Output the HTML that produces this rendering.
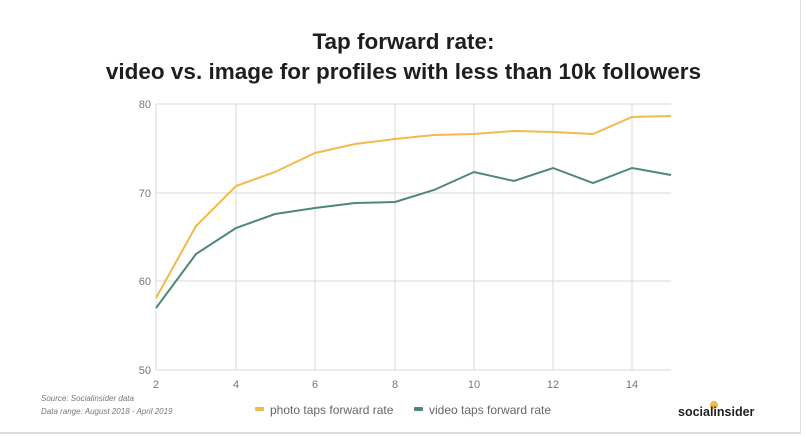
<!DOCTYPE html>
<html><head><meta charset="utf-8"><style>
body{margin:0;width:807px;height:437px;background:#fff;overflow:hidden;font-family:"Liberation Sans",sans-serif;}
.t{position:absolute;left:0;width:807px;text-align:center;font-size:22.5px;font-weight:bold;color:#1e1e1e;}
</style></head><body>
<div style="position:absolute;left:0;top:0;width:800px;height:432px;border-right:1px solid #e0e0e0;border-bottom:2px solid #dcdcdc;"></div>
<div class="t" style="top:29px">Tap forward rate:</div>
<div class="t" style="top:59px">video vs. image for profiles with less than 10k followers</div>
<svg width="807" height="437" style="position:absolute;left:0;top:0">
<g stroke="#d9d9d9" stroke-width="1">
<line x1="156" y1="104" x2="671" y2="104"/><line x1="156" y1="193" x2="671" y2="193"/>
<line x1="156" y1="281" x2="671" y2="281"/><line x1="156" y1="370" x2="671" y2="370"/>
<line x1="156" y1="104" x2="156" y2="370"/><line x1="236" y1="104" x2="236" y2="370"/>
<line x1="315" y1="104" x2="315" y2="370"/><line x1="395" y1="104" x2="395" y2="370"/>
<line x1="474" y1="104" x2="474" y2="370"/><line x1="553" y1="104" x2="553" y2="370"/>
<line x1="632" y1="104" x2="632" y2="370"/>
</g>
<g font-size="11" fill="#777" text-anchor="end">
<text x="151" y="108">80</text><text x="151" y="197">70</text><text x="151" y="285">60</text><text x="151" y="374">50</text>
</g>
<g font-size="11" fill="#777" text-anchor="middle">
<text x="156" y="388">2</text><text x="236" y="388">4</text><text x="315" y="388">6</text><text x="395" y="388">8</text><text x="474" y="388">10</text><text x="553" y="388">12</text><text x="632" y="388">14</text>
</g>
<polyline fill="none" stroke="#f2b94c" stroke-width="2" points="156,298 196,226 236,186 275,172 315,153 355,144 395,139 434,135 474,134 514,131 553,132 593,134 632,117 671,116"/>
<polyline fill="none" stroke="#4e8a6c" stroke-width="2" points="156,308 196,254 236,228 275,214 315,208 355,203 395,202 434,190 474,172 514,181 553,168 593,183 632,168 671,175"/>
<rect x="255" y="407" width="9" height="4" fill="#f2b94c" rx="1"/>
<rect x="414" y="407" width="9" height="4" fill="#4e8a6c" rx="1"/>
<g font-size="12" fill="#666"><text x="270" y="414">photo taps forward rate</text><text x="429" y="414">video taps forward rate</text></g>
<g font-size="8" fill="#777" font-style="italic"><text x="41" y="401">Source: Socialinsider data</text><text x="41" y="414">Data range: August 2018 - April 2019</text></g>
<circle cx="714" cy="405" r="4" fill="#f2b94c"/>
<text x="678" y="416" font-size="12.5" font-weight="bold" fill="#222">socialinsider</text>
</svg>
</body></html>
